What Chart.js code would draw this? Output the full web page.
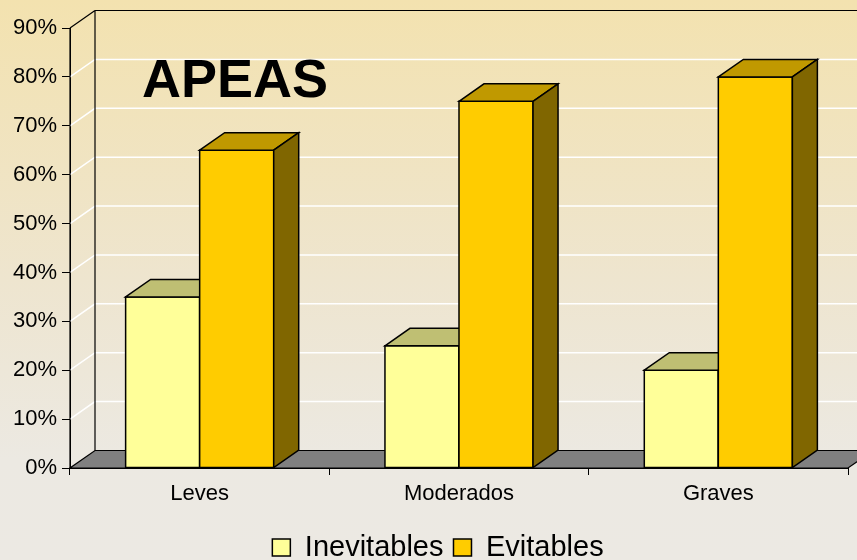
<!DOCTYPE html>
<html>
<head>
<meta charset="utf-8">
<script src="https://cdn.jsdelivr.net/npm/chart.js@4.4.0/dist/chart.umd.min.js"></script>
<style>
  html, body { margin: 0; padding: 0; background: #ece9e3; }
  #wrap { width: 857px; height: 560px; position: relative; }
</style>
</head>
<body>
<div id="wrap"><canvas id="apeasChart"></canvas></div>
<script>
const categories = ['Leves', 'Moderados', 'Graves'];
const inevitables = [35, 25, 20];
const evitables = [65, 75, 80];
const seriesNames = ['Inevitables', 'Evitables'];
const yMax = 90;
const yStep = 10;
const chartTitle = 'APEAS';

const FONT = "Arial, 'Liberation Sans', Helvetica, sans-serif";
const DEPTH_X = 25;
const DEPTH_Y = 17.5;

const faceColors = [
  { front: '#FFFF99', top: '#BFBF73', side: '#80804D' },
  { front: '#FFCC00', top: '#C09900', side: '#806600' },
];

const fillPoly = (ctx, pts, fill) => {
  ctx.beginPath();
  ctx.moveTo(pts[0][0], pts[0][1]);
  pts.slice(1).forEach((p) => ctx.lineTo(p[0], p[1]));
  ctx.closePath();
  ctx.fillStyle = fill;
  ctx.fill();
  ctx.stroke();
};

// walls, floor and the 3d faces of the bars
const box3d = {
  id: 'box3d',
  afterLayout(chart) {
    // legend sits a bit right of centre in the original
    chart.legend.left += 14;
    chart.legend.right += 14;
  },
  beforeDraw(chart) {
    const { ctx, width, height } = chart;
    const grad = ctx.createLinearGradient(0, 0, 0, height);
    grad.addColorStop(0, '#F3E2AF');
    grad.addColorStop(0.5, '#EEE5CF');
    grad.addColorStop(0.82, '#ECE9E2');
    grad.addColorStop(1, '#ECE9E3');
    ctx.save();
    ctx.fillStyle = grad;
    ctx.fillRect(0, 0, width, height);
    ctx.restore();
  },
  beforeDatasetsDraw(chart) {
    const { ctx, chartArea: area, scales: { y } } = chart;
    const { left, right, bottom } = area;
    const top = y.getPixelForValue(yMax);
    ctx.save();

    // white gridlines on side and back walls
    ctx.strokeStyle = '#FFFFFF';
    ctx.lineWidth = 1.5;
    for (let v = yStep; v < yMax; v += yStep) {
      const py = y.getPixelForValue(v);
      ctx.beginPath();
      ctx.moveTo(left, py);
      ctx.lineTo(left + DEPTH_X, py - DEPTH_Y);
      ctx.lineTo(right + DEPTH_X, py - DEPTH_Y);
      ctx.stroke();
    }

    // floor
    ctx.strokeStyle = '#000000';
    ctx.lineWidth = 1.2;
    fillPoly(ctx, [
      [left, bottom], [right, bottom],
      [right + DEPTH_X, bottom - DEPTH_Y], [left + DEPTH_X, bottom - DEPTH_Y],
    ], '#808080');

    // wall edges
    ctx.beginPath();
    ctx.moveTo(left + DEPTH_X, bottom - DEPTH_Y);
    ctx.lineTo(left + DEPTH_X, top - DEPTH_Y);
    ctx.lineTo(right + DEPTH_X, top - DEPTH_Y);
    ctx.moveTo(left, top);
    ctx.lineTo(left + DEPTH_X, top - DEPTH_Y);
    ctx.moveTo(left, top);
    ctx.lineTo(left, bottom);
    ctx.stroke();
    ctx.restore();
  },
  afterDatasetsDraw(chart) {
    const { ctx } = chart;
    ctx.save();
    ctx.strokeStyle = '#000000';
    ctx.lineWidth = 1.5;
    ctx.lineJoin = 'miter';
    categories.forEach((_, i) => {
      chart.data.datasets.forEach((ds, d) => {
        const el = chart.getDatasetMeta(d).data[i];
        const { x, y, base, width } = el.getProps(['x', 'y', 'base', 'width'], true);
        const l = x - width / 2;
        const r = x + width / 2;
        const c = faceColors[d];
        fillPoly(ctx, [[l, base], [l, y], [r, y], [r, base]], c.front);
        fillPoly(ctx, [[l, y], [l + DEPTH_X, y - DEPTH_Y], [r + DEPTH_X, y - DEPTH_Y], [r, y]], c.top);
        fillPoly(ctx, [[r, y], [r + DEPTH_X, y - DEPTH_Y], [r + DEPTH_X, base - DEPTH_Y], [r, base]], c.side);
      });
    });
    ctx.restore();
  },
  afterDraw(chart) {
    const { ctx } = chart;
    ctx.save();
    ctx.fillStyle = '#000000';
    ctx.font = `bold 54px ${FONT}`;
    ctx.textAlign = 'left';
    ctx.textBaseline = 'alphabetic';
    ctx.fillText(chartTitle, 142, 97);
    ctx.restore();
  },
};

const ctx = document.getElementById('apeasChart');
new Chart(ctx, {
  type: 'bar',
  data: {
    labels: categories,
    datasets: [
      {
        label: seriesNames[0],
        data: inevitables,
        backgroundColor: faceColors[0].front,
        borderColor: '#000000',
        borderWidth: 1.5,
      },
      {
        label: seriesNames[1],
        data: evitables,
        backgroundColor: faceColors[1].front,
        borderColor: '#000000',
        borderWidth: 1.5,
      },
    ],
  },
  options: {
    responsive: true,
    maintainAspectRatio: false,
    animation: false,
    datasets: {
      bar: { categoryPercentage: 0.571, barPercentage: 1.0 },
    },
    layout: { padding: { left: 0, right: 9, top: 28, bottom: 0 } },
    plugins: {
      tooltip: { enabled: false },
      legend: {
        position: 'bottom',
        maxHeight: 37,
        labels: {
          color: '#000000',
          font: { family: FONT, size: 29 },
          boxWidth: 18,
          boxHeight: 17,
          padding: 10,
        },
      },
    },
    scales: {
      x: {
        afterFit: (scale) => { scale.height = 55; },
        border: { display: true, color: '#000000', width: 1 },
        grid: { drawOnChartArea: false, drawTicks: true, tickLength: 7, color: '#000000', offset: true },
        ticks: { padding: 6, color: '#000000', font: { family: FONT, size: 22 } },
      },
      y: {
        min: 0,
        max: yMax,
        afterFit: (scale) => { scale.width = 70; },
        border: { display: true, color: '#000000', width: 1 },
        grid: { drawOnChartArea: false, drawTicks: true, tickLength: 8, color: '#000000' },
        ticks: {
          stepSize: yStep,
          padding: 5,
          color: '#000000',
          font: { family: FONT, size: 22 },
          callback: (v) => `${v}%`,
        },
      },
    },
  },
  plugins: [box3d],
});
</script>
</body>
</html>
